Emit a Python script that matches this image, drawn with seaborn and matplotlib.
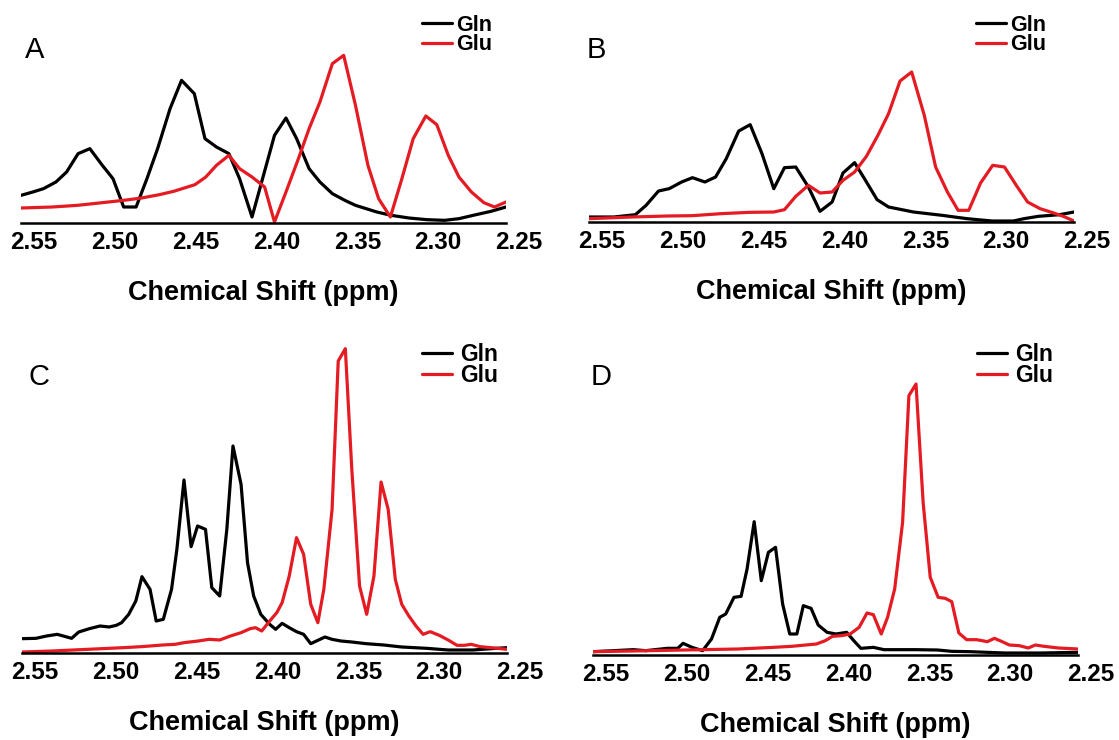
import matplotlib
matplotlib.use('Agg')
import matplotlib.pyplot as plt
import matplotlib.transforms as mtrans
import seaborn as sns


# chemical shift ticks (ppm, axis runs right to left)
tick_ppm = [2.55, 2.50, 2.45, 2.40, 2.35, 2.30, 2.25]
tick_labels = ['2.55', '2.50', '2.45', '2.40', '2.35', '2.30', '2.25']

# panel A
gln_a_ppm = [2.5500, 2.5427, 2.5361, 2.5284, 2.5218, 2.5147, 2.5074, 2.4997, 2.4931, 2.4865,
             2.4788, 2.4721, 2.4655, 2.4578, 2.4507, 2.4428, 2.4362, 2.4291, 2.4214, 2.4148,
             2.4071, 2.3932, 2.3861, 2.3795, 2.3718, 2.3651, 2.3574, 2.3497, 2.3431, 2.3299,
             2.3210, 2.3100, 2.2990, 2.2879, 2.2791, 2.2703, 2.2593, 2.2500]
gln_a = [80, 90, 100, 120, 150, 205, 220, 170, 130, 45, 45, 130, 220, 340, 425, 385, 250, 225, 205, 130,
         15, 260, 312, 250, 160, 120, 85, 65, 50, 30, 20, 12, 7, 5, 10, 20, 32, 45]
glu_a_ppm = [2.5500, 2.5306, 2.5151, 2.4997, 2.4865, 2.4754, 2.4644, 2.4556, 2.4490, 2.4424,
             2.4357, 2.4291, 2.4214, 2.4148, 2.4071, 2.3993, 2.3932, 2.3861, 2.3784, 2.3718,
             2.3651, 2.3574, 2.3504, 2.3431, 2.3354, 2.3288, 2.3215, 2.3144, 2.3074, 2.2996,
             2.2928, 2.2857, 2.2791, 2.2714, 2.2637, 2.2571, 2.2500]
glu_a = [42, 45, 50, 58, 65, 72, 82, 92, 102, 112, 135, 170, 200, 160, 135, 105, 0, 90, 190, 280,
         360, 475, 500, 350, 170, 70, 15, 130, 250, 318, 292, 200, 135, 90, 58, 45, 60]

# panel B
gln_b_ppm = [2.5500, 2.5346, 2.5213, 2.5147, 2.5070, 2.5004, 2.4927, 2.4860, 2.4783, 2.4717,
             2.4651, 2.4574, 2.4503, 2.4430, 2.4357, 2.4291, 2.4221, 2.4143, 2.4071, 2.3996,
             2.3929, 2.3857, 2.3790, 2.3718, 2.3647, 2.3493, 2.3316, 2.3162, 2.3007, 2.2875,
             2.2809, 2.2721, 2.2588, 2.2500]
gln_b = [12, 12, 19, 47, 90, 97, 117, 130, 117, 132, 187, 270, 289, 202, 97, 160, 162, 102, 29, 57,
         144, 175, 122, 64, 42, 27, 17, 7, 0, 0, 7, 14, 19, 27]
glu_b_ppm = [2.5500, 2.5235, 2.5015, 2.4860, 2.4684, 2.4507, 2.4357, 2.4291, 2.4221, 2.4143,
             2.4071, 2.3996, 2.3929, 2.3857, 2.3784, 2.3713, 2.3647, 2.3576, 2.3504, 2.3426,
             2.3356, 2.3283, 2.3217, 2.3151, 2.3078, 2.3003, 2.2930, 2.2857, 2.2787, 2.2710,
             2.2632, 2.2566, 2.2500]
glu_b = [7, 12, 15, 16, 22, 26, 27, 34, 74, 107, 84, 87, 122, 147, 194, 257, 322, 420, 447, 317,
         162, 87, 32, 32, 114, 167, 162, 107, 57, 37, 25, 14, 0]

# panel C
gln_c_ppm = [2.5500, 2.5414, 2.5348, 2.5282, 2.5193, 2.5149, 2.5083, 2.5017, 2.4961, 2.4917,
             2.4884, 2.4840, 2.4796, 2.4758, 2.4708, 2.4670, 2.4626, 2.4575, 2.4542, 2.4498,
             2.4454, 2.4414, 2.4365, 2.4326, 2.4277, 2.4233, 2.4195, 2.4145, 2.4105, 2.4067,
             2.4023, 2.3968, 2.3931, 2.3891, 2.3847, 2.3802, 2.3758, 2.3714, 2.3670, 2.3626,
             2.3582, 2.3527, 2.3460, 2.3372, 2.3262, 2.3151, 2.2997, 2.2864, 2.2710, 2.2599,
             2.2500]
gln_c = [40, 41, 48, 53, 41, 60, 70, 78, 75, 80, 88, 113, 153, 226, 188, 93, 98, 188, 308, 516,
         316, 378, 368, 193, 168, 368, 618, 503, 268, 168, 113, 83, 68, 86, 73, 61, 53, 25, 35, 45,
         38, 33, 30, 25, 21, 15, 11, 6, 6, 10, 13]
glu_c_ppm = [2.5500, 2.5315, 2.5094, 2.4873, 2.4763, 2.4630, 2.4553, 2.4498, 2.4410, 2.4343,
             2.4277, 2.4211, 2.4145, 2.4089, 2.4056, 2.4017, 2.3968, 2.3924, 2.3891, 2.3847,
             2.3802, 2.3758, 2.3714, 2.3670, 2.3633, 2.3582, 2.3544, 2.3500, 2.3460, 2.3412,
             2.3368, 2.3323, 2.3279, 2.3235, 2.3191, 2.3151, 2.3107, 2.3063, 2.3019, 2.2975,
             2.2919, 2.2864, 2.2809, 2.2765, 2.2721, 2.2666, 2.2599, 2.2500]
glu_c = [0, 3, 8, 13, 16, 21, 23, 28, 33, 38, 36, 48, 58, 70, 73, 63, 93, 118, 148, 228,
         343, 293, 143, 88, 188, 428, 873, 910, 548, 198, 113, 228, 510, 428, 218, 143, 108, 78, 53, 61,
         50, 36, 20, 20, 23, 16, 13, 8]

# panel D
gln_d_ppm = [2.5500, 2.5372, 2.5251, 2.5174, 2.5042, 2.4976, 2.4943, 2.4888, 2.4822, 2.4767,
             2.4716, 2.4679, 2.4628, 2.4584, 2.4547, 2.4503, 2.4459, 2.4415, 2.4371, 2.4327,
             2.4283, 2.4239, 2.4199, 2.4151, 2.4107, 2.4052, 2.3997, 2.3931, 2.3887, 2.3843,
             2.3766, 2.3700, 2.3502, 2.3369, 2.3281, 2.3171, 2.2951, 2.2731, 2.2500]
gln_d = [7, 10, 13, 10, 17, 17, 32, 20, 10, 45, 110, 120, 170, 173, 255, 397, 220, 305, 320, 150,
         60, 60, 145, 137, 87, 65, 60, 65, 40, 17, 20, 13, 13, 12, 8, 7, 3, 3, 5]
glu_d_ppm = [2.5500, 2.5262, 2.5042, 2.4822, 2.4602, 2.4382, 2.4272, 2.4118, 2.4063, 2.4019,
             2.3964, 2.3909, 2.3854, 2.3805, 2.3766, 2.3717, 2.3678, 2.3634, 2.3585, 2.3546,
             2.3502, 2.3458, 2.3414, 2.3365, 2.3321, 2.3281, 2.3237, 2.3189, 2.3127, 2.3061,
             2.3017, 2.2969, 2.2925, 2.2863, 2.2808, 2.2764, 2.2709, 2.2621, 2.2500]
glu_d = [7, 9, 11, 13, 15, 20, 23, 30, 40, 53, 55, 60, 80, 123, 118, 60, 110, 195, 395, 775,
         810, 455, 230, 170, 167, 157, 63, 43, 43, 37, 47, 37, 27, 25, 18, 27, 23, 18, 15]

W, H, DPI = 1119, 740, 100
RED = '#e41b22'
FONT = ['Liberation Sans', 'DejaVu Sans']


def fig_xy(x, y):
    return x / W, 1 - y / H


def draw_panel(fig, box, letter, letter_xy, legend_xy, legend_size, legend_pad, gln, glu):
    left, right, bottom, top = box
    ax = fig.add_axes([left / W, 1 - bottom / H, (right - left) / W, (bottom - top) / H])

    sns.lineplot(x=gln[0], y=gln[1], color='black', linewidth=2.3, label='Gln', ax=ax)
    sns.lineplot(x=glu[0], y=glu[1], color=RED, linewidth=2.3, label='Glu', ax=ax)

    # intensity scale: 3 units per pixel, spine just below zero
    ax.set_ylim(-3, -3 + 3 * (bottom - top))
    ax.set_xlim(2.55, 2.25)
    ax.set_yticks([])
    ax.set_ylabel('')
    sns.despine(ax=ax, left=True)
    ax.spines['bottom'].set_linewidth(1.8)
    ax.spines['bottom'].set_color('black')

    ax.set_xticks(tick_ppm)
    ax.set_xticklabels(tick_labels, fontsize=17.5, fontweight='bold', family=FONT, color='black')
    ax.tick_params(axis='x', direction='in', length=3, width=1.5, pad=6, color='black')
    # labels sit a little right of their ticks in the original figure
    shift = mtrans.ScaledTranslation(13 / DPI, 0, fig.dpi_scale_trans)
    for tick in ax.xaxis.get_major_ticks():
        tick.label1.set_transform(tick.label1.get_transform() + shift)

    ax.set_xlabel('Chemical Shift (ppm)', fontsize=19.5, fontweight='bold', family=FONT,
                  color='black', labelpad=18.5)

    ax.legend(loc='upper left', bbox_to_anchor=fig_xy(*legend_xy), bbox_transform=fig.transFigure,
              frameon=False, prop=dict(family=FONT, weight='bold', size=legend_size),
              handlelength=30 / (legend_size * DPI / 72), handletextpad=legend_pad,
              labelspacing=-0.08, borderpad=0, borderaxespad=0, labelcolor='black')

    fig.text(*fig_xy(*letter_xy), letter, fontsize=21, family=FONT, color='black',
             va='baseline', ha='left')
    return ax


def main():
    sns.set_theme(style='white')
    plt.rcParams['font.family'] = FONT
    plt.rcParams['text.color'] = 'black'

    fig = plt.figure(figsize=(W / DPI, H / DPI), dpi=DPI)

    draw_panel(fig, (21, 506, 223, 30), 'A', (25, 58), (422, 15), 15.5, 0.2,
               (gln_a_ppm, gln_a), (glu_a_ppm, glu_a))
    draw_panel(fig, (589, 1074, 222, 30), 'B', (587, 58), (976, 15), 15.5, 0.2,
               (gln_b_ppm, gln_b), (glu_b_ppm, glu_b))
    draw_panel(fig, (22, 507, 653, 340), 'C', (28, 385), (422, 343), 16.5, 0.35,
               (gln_c_ppm, gln_c), (glu_c_ppm, glu_c))
    draw_panel(fig, (593, 1078, 655, 340), 'D', (591, 385), (977, 343), 16.5, 0.35,
               (gln_d_ppm, gln_d), (glu_d_ppm, glu_d))

    fig.savefig('out.png', dpi=DPI)


if __name__ == '__main__':
    main()
